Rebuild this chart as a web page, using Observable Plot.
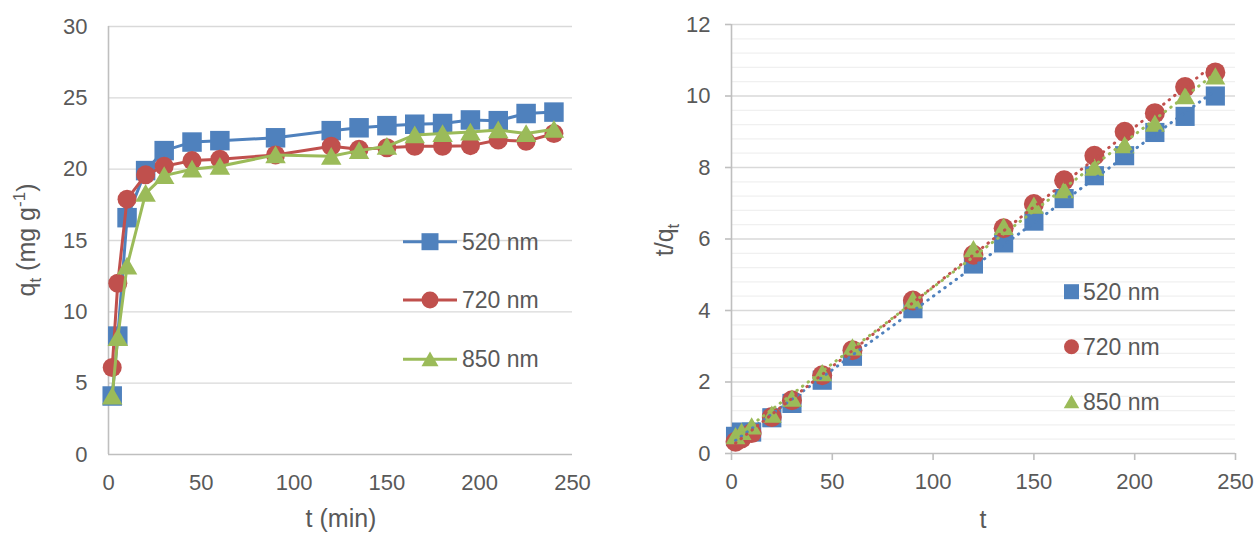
<!DOCTYPE html>
<html><head><meta charset="utf-8">
<script src="https://cdn.jsdelivr.net/npm/d3@7"></script>
<script src="https://cdn.jsdelivr.net/npm/@observablehq/plot@0.6"></script>
<style>
html,body{margin:0;padding:0;background:#fff;}
#wrap{position:relative;width:1257px;height:533px;overflow:hidden;font-family:"Liberation Sans",Arial,sans-serif;}
#left,#right{position:absolute;top:0;}
#left{left:0}
#right{left:620px}
#legend{position:absolute;left:0;top:0;pointer-events:none;}
</style></head><body>
<div id="wrap"><div id="left"></div><div id="right"></div><svg id="legend" width="1257" height="533"></svg></div>
<script>
// ---------- data ----------
const times = [2, 5, 10, 20, 30, 45, 60, 90, 120, 135, 150, 165, 180, 195, 210, 225, 240];
const seriesNames = ["520 nm", "720 nm", "850 nm"];
const qt520 = [4.1, 8.3, 16.6, 19.9, 21.3, 21.9, 22.0, 22.2, 22.7, 22.9, 23.05, 23.15, 23.2, 23.45, 23.4, 23.9, 24.0];
const qt720 = [6.1, 12.0, 17.9, 19.6, 20.2, 20.6, 20.7, 21.0, 21.6, 21.4, 21.5, 21.6, 21.6, 21.65, 22.05, 21.95, 22.5];
const qt850 = [4.1, 8.2, 13.2, 18.3, 19.55, 20.0, 20.2, 21.0, 20.9, 21.3, 21.6, 22.4, 22.5, 22.6, 22.75, 22.5, 22.8];
const tq520 = [0.48, 0.60, 0.60, 1.00, 1.40, 2.05, 2.72, 4.05, 5.30, 5.89, 6.50, 7.13, 7.77, 8.33, 8.98, 9.43, 10.0];
const tq720 = [0.33, 0.42, 0.57, 1.02, 1.49, 2.19, 2.89, 4.28, 5.56, 6.30, 6.98, 7.64, 8.33, 9.00, 9.52, 10.25, 10.66];
const tq850 = [0.49, 0.61, 0.76, 1.09, 1.54, 2.25, 2.97, 4.29, 5.72, 6.34, 6.94, 7.37, 8.00, 8.63, 9.23, 10.0, 10.55];
const xTicks = [0, 50, 100, 150, 200, 250];
const qtTicks = [0, 5, 10, 15, 20, 25, 30];
const tqTicks = [0, 2, 4, 6, 8, 10, 12];

// ---------- styling ----------
const colors = ["#4f81bd", "#c0504d", "#9bbb59"];
const symbols = ["square", "circle", "triangle"];
const textColor = "#595959";
const font = "'Liberation Sans', Arial, sans-serif";

const qtSeries = [qt520, qt720, qt850];
const tqSeries = [tq520, tq720, tq850];
const qtRows = seriesNames.map((s, i) => times.map((t, j) => ({t, v: qtSeries[i][j], s})));
const tqRows = seriesNames.map((s, i) => times.map((t, j) => ({t, v: tqSeries[i][j], s})));

const leftR = {square: 11, circle: 9.5, triangle: 7.6};
const rightR = {square: 10.8, circle: 10, triangle: 7.4};
const triDy = {square: 0, circle: 0, triangle: 2.5};

// ---------- left chart ----------
const leftMarks = [
  Plot.gridY({ticks: qtTicks.slice(1), stroke: "#d9d9d9", strokeOpacity: 1, strokeWidth: 1.3}),
  Plot.ruleX([0], {stroke: "#bfbfbf", strokeWidth: 1.6}),
  Plot.ruleY([0], {stroke: "#bfbfbf", strokeWidth: 1.6}),
  Plot.axisX({ticks: xTicks, tickSize: 0, tickPadding: 20, label: null, fill: textColor}),
  Plot.axisY({ticks: qtTicks, tickSize: 0, tickPadding: 21, label: null, fill: textColor})
];
seriesNames.forEach((s, i) => {
  leftMarks.push(Plot.line(qtRows[i], {x: "t", y: "v", stroke: colors[i], strokeWidth: 3}));
  leftMarks.push(Plot.dot(qtRows[i], {x: "t", y: "v", symbol: () => symbols[i], r: leftR[symbols[i]], dy: triDy[symbols[i]], fill: colors[i], stroke: "none"}));
});
const left = Plot.plot({
  width: 620, height: 533, marginLeft: 108, marginRight: 48, marginTop: 26, marginBottom: 79,
  x: {domain: [0, 250]}, y: {domain: [0, 30]},
  symbol: {type: "identity"},
  style: {fontSize: "22px", fontFamily: font, color: textColor, background: "transparent", overflow: "visible"},
  marks: leftMarks
});
document.getElementById("left").append(left);

// ---------- right chart ----------
const minorTicks = d3.range(1, 30).filter(i => i % 5 !== 0).map(i => +(i * 0.4).toFixed(2));
const rightMarks = [
  Plot.gridY({ticks: minorTicks, stroke: "#f0f0f0", strokeOpacity: 1, strokeWidth: 1.3}),
  Plot.gridY({ticks: tqTicks.slice(1), stroke: "#d9d9d9", strokeOpacity: 1, strokeWidth: 1.3}),
  Plot.ruleX([0], {stroke: "#bfbfbf", strokeWidth: 1.6}),
  Plot.ruleY([0], {stroke: "#bfbfbf", strokeWidth: 1.6}),
  Plot.axisX({ticks: xTicks, tickSize: 7, tickPadding: 13, label: null, stroke: "#bfbfbf", strokeWidth: 1.6, fill: textColor}),
  Plot.axisY({ticks: tqTicks, tickSize: 6, tickPadding: 15, label: null, stroke: "#bfbfbf", strokeWidth: 1.6, fill: textColor})
];
seriesNames.forEach((s, i) => {
  rightMarks.push(Plot.dot(tqRows[i], {x: "t", y: "v", symbol: () => symbols[i], r: rightR[symbols[i]], dy: triDy[symbols[i]], fill: colors[i], stroke: "none"}));
});
seriesNames.forEach((s, i) => {
  rightMarks.push(Plot.linearRegressionY(tqRows[i], {x: "t", y: "v", stroke: colors[i], ci: 0, strokeWidth: 3, strokeDasharray: "0.5,6.5", strokeLinecap: "round"}));
});
const right = Plot.plot({
  width: 637, height: 533, marginLeft: 111, marginRight: 22, marginTop: 24, marginBottom: 80,
  x: {domain: [0, 250]}, y: {domain: [0, 12]},
  symbol: {type: "identity"},
  style: {fontSize: "22px", fontFamily: font, color: textColor, background: "transparent", overflow: "visible"},
  marks: rightMarks
});
document.getElementById("right").append(right);

// ---------- axis titles ----------
function title(svg, x, y, rotate, parts) {
  const t = d3.select(svg).append("text")
    .attr("transform", `translate(${x},${y})` + (rotate ? " rotate(-90)" : ""))
    .attr("text-anchor", "middle")
    .attr("fill", textColor)
    .style("font-family", font)
    .style("font-size", "25px");
  parts.forEach(p => {
    const ts = t.append("tspan").text(p.text);
    if (p.size) ts.style("font-size", p.size + "px");
    if (p.dy) ts.attr("dy", p.dy);
  });
}
title(left, 341, 527, false, [{text: "t (min)"}]);
title(left, 35, 240, true, [
  {text: "q"}, {text: "t", size: 17, dy: 6}, {text: " (mg g", size: 25, dy: -6},
  {text: "-1", size: 17, dy: -10}, {text: ")", size: 25, dy: 10}
]);
title(right, 363, 528, false, [{text: "t"}]);
title(right, 53, 240, true, [{text: "t/q"}, {text: "t", size: 17, dy: 6}]);

// ---------- legends ----------
const lg = d3.select("#legend");
const symFns = {square: d3.symbolSquare, circle: d3.symbolCircle, triangle: d3.symbolTriangle};
const leftRowsY = [241.7, 300, 359.3];
seriesNames.forEach((s, i) => {
  const y = leftRowsY[i];
  lg.append("line").attr("x1", 403).attr("x2", 457).attr("y1", y).attr("y2", y)
    .attr("stroke", colors[i]).attr("stroke-width", 3);
  const area = symbols[i] === "triangle" ? 17 * 17 * Math.sqrt(3) / 4 : (symbols[i] === "square" ? 17 * 17 : Math.PI * 8.5 * 8.5);
  lg.append("path").attr("d", d3.symbol(symFns[symbols[i]], area)())
    .attr("transform", `translate(430,${y + (symbols[i] === "triangle" ? 2 : 0)})`).attr("fill", colors[i]);
  lg.append("text").attr("x", 462).attr("y", y).attr("dy", "0.35em").text(s)
    .attr("fill", textColor).style("font-size", "23px").style("font-family", font);
});
const rightRowsY = [291.7, 346.7, 401.7];
seriesNames.forEach((s, i) => {
  const y = rightRowsY[i];
  const area = symbols[i] === "triangle" ? 15.5 * 15.5 * Math.sqrt(3) / 4 : (symbols[i] === "square" ? 15 * 15 : Math.PI * 7.5 * 7.5);
  lg.append("path").attr("d", d3.symbol(symFns[symbols[i]], area)())
    .attr("transform", `translate(1071.5,${y + (symbols[i] === "triangle" ? 2 : 0)})`).attr("fill", colors[i]);
  lg.append("text").attr("x", 1083).attr("y", y).attr("dy", "0.35em").text(s)
    .attr("fill", textColor).style("font-size", "23px").style("font-family", font);
});
</script>
</body></html>
